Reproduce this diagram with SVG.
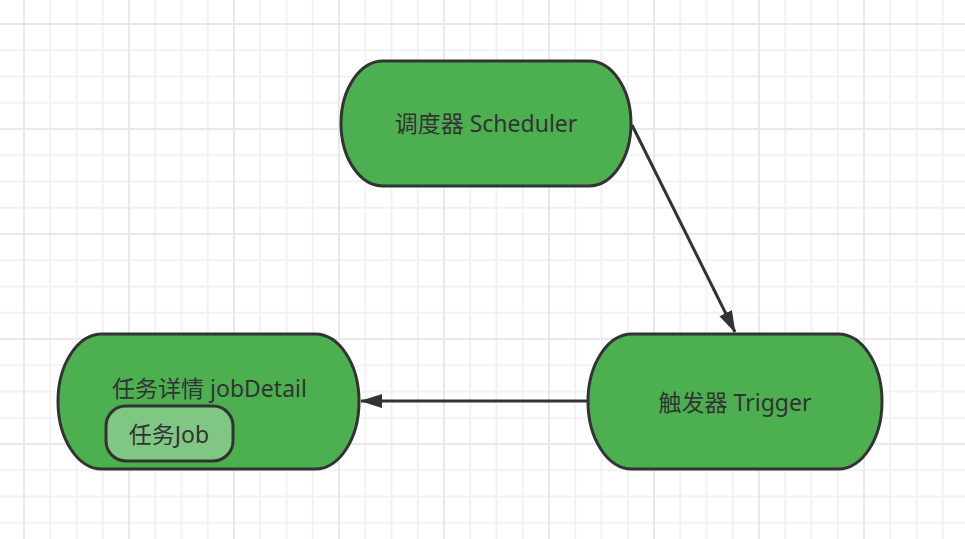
<svg xmlns="http://www.w3.org/2000/svg" width="965" height="539" viewBox="0 0 965 539">
<defs>
<pattern id="grid" patternUnits="userSpaceOnUse" x="23" y="23" width="105" height="105">
<rect x="0" y="0" width="105" height="105" fill="#ffffff"/>
<rect x="26.25" y="0" width="2" height="105" fill="#f2f2f2"/>
<rect x="52.5" y="0" width="2" height="105" fill="#f2f2f2"/>
<rect x="78.75" y="0" width="2" height="105" fill="#f2f2f2"/>
<rect x="0" y="26.25" width="105" height="2" fill="#f2f2f2"/>
<rect x="0" y="52.5" width="105" height="2" fill="#f2f2f2"/>
<rect x="0" y="78.75" width="105" height="2" fill="#f2f2f2"/>
<rect x="0" y="0" width="2" height="105" fill="#e8e8e8"/>
<rect x="0" y="0" width="105" height="2" fill="#e8e8e8"/>
</pattern>
<marker id="arrow" viewBox="0 0 22 14" refX="21" refY="7" markerWidth="22" markerHeight="14" markerUnits="userSpaceOnUse" orient="auto">
<path d="M0,0 L22,7 L0,14 Z" fill="#333333"/>
</marker>
</defs>
<style>
.node{fill:#4caf50;stroke:#333333;stroke-width:3}
.inner{fill:#81c784;stroke:#333333;stroke-width:3}
.label{font-family:"Noto Sans","Noto Sans CJK SC",sans-serif;font-size:23px;fill:#333333;text-anchor:middle}
.edge{fill:none;stroke:#333333;stroke-width:3}
</style>
<rect x="0" y="0" width="965" height="539" fill="url(#grid)"/>
<g id="edges">
<path class="edge" d="M632,125 L735,332" marker-end="url(#arrow)"/>
<path class="edge" d="M588,401 L361,401" marker-end="url(#arrow)"/>
</g>
<g id="scheduler">
<rect class="node" x="341" y="61" width="290" height="125" rx="42" ry="62.5"/>
<text class="label" x="486" y="132">调度器 Scheduler</text>
</g>
<g id="trigger">
<rect class="node" x="588" y="334" width="294" height="135" rx="44" ry="67.5"/>
<text class="label" x="735" y="411">触发器 Trigger</text>
</g>
<g id="jobDetail">
<rect class="node" x="58" y="334" width="301" height="135" rx="44" ry="67.5"/>
<text class="label" x="209.5" y="397">任务详情 jobDetail</text>
<g id="job">
<rect class="inner" x="106" y="406" width="127" height="55" rx="20" ry="20"/>
<text class="label" x="169" y="443">任务Job</text>
</g>
</g>
</svg>
